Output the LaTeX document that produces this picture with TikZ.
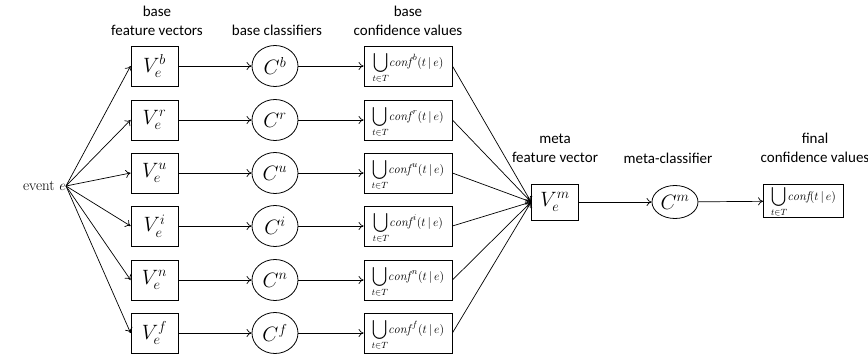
\documentclass[tikz,border=0pt]{standalone}
\usepackage{fontspec}
\usepackage{graphicx}
\newfontfamily\lblfont{Carlito}
\usetikzlibrary{arrows.meta,shapes.geometric}
\newcommand{\BigU}{\mathop{\vcenter{\hbox{\scalebox{1.35}[1.35]{$\displaystyle\bigcup$}}}}\limits_{t\in T}}
\newcommand{\cf}[1]{$\BigU\!\mathit{conf}^{\,#1}(t\,|\,e)$}
\begin{document}
\begin{tikzpicture}[x=1pt,y=-1pt,
  vbox/.style={draw,line width=0.8pt,minimum width=47pt,minimum height=40pt,inner sep=0pt,font=\fontsize{21}{24}\selectfont},
  cls/.style={draw,ellipse,line width=0.8pt,minimum width=46pt,minimum height=41pt,inner sep=0pt,font=\fontsize{21}{24}\selectfont},
  cbox/.style={draw,line width=0.8pt,minimum width=88pt,minimum height=40pt,inner sep=0pt},
  ctext/.style={inner sep=0pt,font=\fontsize{12.5}{15}\selectfont},
  lbl/.style={font=\lblfont\fontsize{15}{19}\selectfont,align=center,inner sep=0pt},
  arr/.style={-{To[length=5pt,width=8pt]},line width=0.7pt}]
\useasboundingbox (0,0) rectangle (868,361);
% headers
\node[lbl] (h1) at (157,21) {base\\feature vectors};
\node[lbl] (h2) at (277,30) {base classifiers};
\node[lbl] (h3) at (408,21) {base\\confidence values};
\node[lbl] (h4) at (555,148) {meta\\feature vector};
\node[lbl] (h5) at (668,158) {meta-classifier};
\node[lbl] (h6) at (815,148) {final\\confidence values};
% event
\node[font=\fontsize{15}{16}\selectfont,inner sep=0pt,anchor=east] (ev) at (66,186) {event $e$};
\foreach \s/\y in {b/66,r/120,u/173,i/226,n/280,f/333}{
  \node[vbox] (v\s) at (154.5,\y) {$V_e^{\s}$};
  \node[cls] (c\s) at (275,\y) {$C^{\s}$};
  \node[cbox] (k\s) at (408,\y) {};
  \node[ctext] (t\s) at ([yshift=-2pt]k\s.center) {\cf{\s}};
}
\node[vbox,minimum height=36pt] (vm) at (555,202) {$V_e^{m}$};
\node[cls,minimum height=33pt] (cm) at (675,202) {$C^{m}$};
\node[cbox,minimum width=80pt,minimum height=33pt] (fin) at (803.5,201) {};
\node[ctext] (tfin) at ([yshift=-1pt]fin.center) {$\BigU\!\mathit{conf}(t\,|\,e)$};
\foreach \s in {b,r,u,i,n,f}{
  \draw[arr] (ev.east) -- (v\s.west);
  \draw[arr] (v\s) -- (c\s);
  \draw[arr] (c\s) -- (k\s);
  \draw[arr] (k\s.east) -- (vm.west);
}
\draw[arr] (vm) -- (cm);
\draw[arr] (cm) -- (fin);
\end{tikzpicture}
\end{document}
